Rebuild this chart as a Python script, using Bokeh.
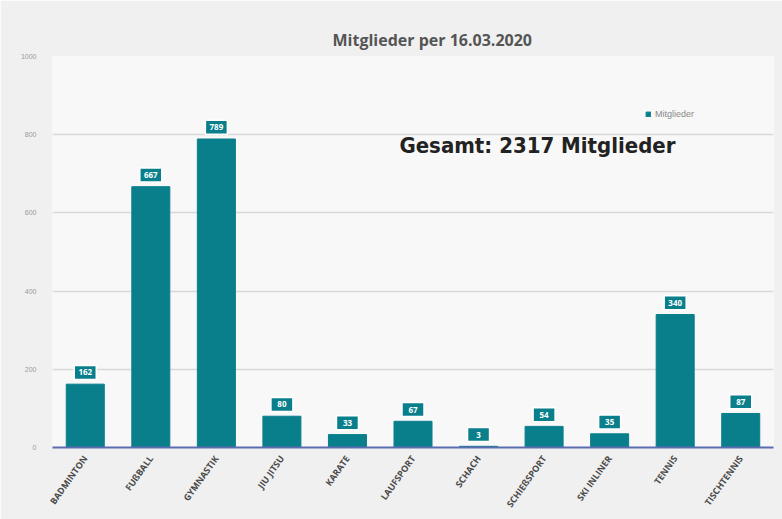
import math
from bokeh.plotting import figure
from bokeh.models import ColumnDataSource, Label, Legend, LegendItem, FixedTicker
from bokeh.core.properties import value
from bokeh.embed import file_html
from bokeh.resources import INLINE

categories = ["BADMINTON", "FUßBALL", "GYMNASTIK", "JIU JITSU", "KARATE", "LAUFSPORT",
              "SCHACH", "SCHIEßSPORT", "SKI INLINER", "TENNIS", "TISCHTENNIS"]
members = [162, 667, 789, 80, 33, 67, 3, 54, 35, 340, 87]
y_ticks = [0, 200, 400, 600, 800, 1000]
title_text = "Mitglieder per 16.03.2020"
series_name = "Mitglieder"
total_text = "Gesamt: 2317 Mitglieder"

TEAL = "#0a7f8c"
LABEL_GAP = 30  # data units above each bar for the value badge

src = ColumnDataSource(dict(cat=categories, val=members,
                            lab=[str(v) for v in members],
                            ly=[v + LABEL_GAP for v in members]))

p = figure(x_range=categories, y_range=(0, 1000), width=782, height=519,
           output_backend="svg", toolbar_location=None,
           min_border_left=52, min_border_right=9, min_border_top=56, min_border_bottom=72)
p.background_fill_color = "#f8f8f8"
p.border_fill_color = "#f0f0f0"
p.outline_line_color = None

p.title.text = title_text
p.title.align = "left"
p.title.offset = 280
p.title.text_font = "Open Sans"
p.title.text_font_size = "16px"
p.title.text_font_style = "bold"
p.title.text_color = "#555555"
p.title.standoff = 12

r = p.vbar(x="cat", top="val", width=0.58, source=src, color=TEAL)

p.rect(x="cat", y="ly", width=22, height=14, width_units="screen", height_units="screen",
       source=src, fill_color=TEAL, line_color="white", line_width=1.5)
p.text(x="cat", y="ly", text="lab", source=src, text_align="center", text_baseline="middle",
       text_color="white", text_font_size="8px", text_font_style="bold",
       text_font=value("Open Sans"))

p.yaxis.ticker = FixedTicker(ticks=y_ticks)
p.yaxis.axis_line_color = None
p.yaxis.major_tick_line_color = None
p.yaxis.minor_tick_line_color = None
p.yaxis.major_label_text_font_size = "7px"
p.yaxis.major_label_text_color = "#9a9a9a"
p.yaxis.major_label_standoff = 10

p.xaxis.axis_line_color = "#5b6db0"
p.xaxis.axis_line_width = 2
p.xaxis.major_tick_line_color = None
p.xaxis.minor_tick_line_color = None
p.xaxis.major_label_orientation = 0.95
p.xaxis.major_label_text_font_size = "9px"
p.xaxis.major_label_text_font_style = "bold"
p.xaxis.major_label_text_color = "#4a4a4a"
p.xaxis.major_label_text_font = "Open Sans"
p.xaxis.major_label_standoff = 3

p.xgrid.grid_line_color = None
p.ygrid.grid_line_color = "#d8d8d8"
p.ygrid.grid_line_width = 1.5

# screen units here are relative to the plot frame's bottom-left corner
p.add_layout(Label(x=485, y=302, x_units="screen", y_units="screen", text=total_text,
                   text_align="center", text_baseline="middle",
                   text_font="'DejaVu Sans Condensed', 'Liberation Sans Narrow', Roboto",
                   text_font_size="22px", text_font_style="bold", text_color="#222222"))

legend = Legend(items=[LegendItem(label=series_name, renderers=[r])],
                location=(593, 328), background_fill_alpha=0, border_line_color=None,
                label_text_font_size="9px", label_text_color="#888888",
                glyph_width=6, glyph_height=6, label_standoff=4, padding=2, margin=0)
p.add_layout(legend, "center")

open("out.html", "w").write(file_html(p, INLINE))
